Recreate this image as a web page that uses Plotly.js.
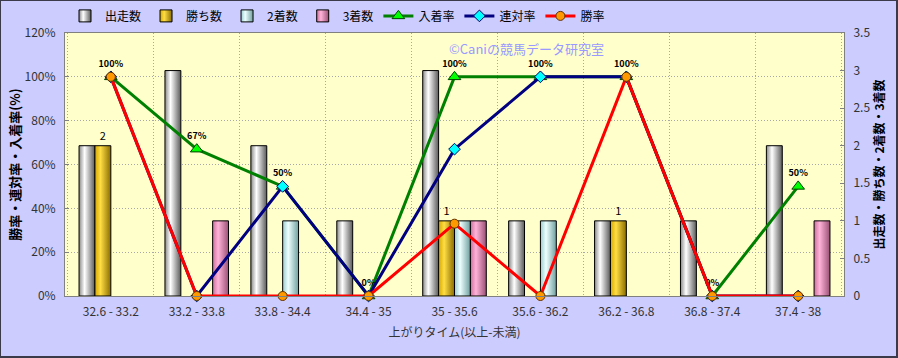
<!DOCTYPE html>
<html>
<head>
<meta charset="utf-8">
<script src="https://cdn.plot.ly/plotly-3.0.1.min.js"></script>
<style>
  html, body { margin: 0; padding: 0; background: #ccccff; }
  #wrap { width: 895px; height: 355px; border-style: solid; border-color: #3a3a4a;
          border-width: 1px 2px 2px 1px; background: #ccccff; }
  #chart { width: 895px; height: 355px; }
</style>
</head>
<body>
<div id="wrap"><div id="chart"></div></div>
<script>
// ---- data ----
const categories = ["32.6 - 33.2", "33.2 - 33.8", "33.8 - 34.4", "34.4 - 35", "35 - 35.6",
                    "35.6 - 36.2", "36.2 - 36.8", "36.8 - 37.4", "37.4 - 38"];
const starts  = [2, 3, 2, 1, 3, 1, 1, 1, 2];   // 出走数
const wins    = [2, 0, 0, 0, 1, 0, 1, 0, 0];   // 勝ち数
const seconds = [0, 0, 1, 0, 1, 1, 0, 0, 0];   // 2着数
const thirds  = [0, 1, 0, 0, 1, 0, 0, 0, 1];   // 3着数
const placeRate = [100, 67, 50, 0, 100, 100, 100, 0, 50]; // 入着率 (%)
const quinRate  = [100, 0, 50, 0, 67, 100, 100, 0, 0];    // 連対率 (%)
const winRate   = [100, 0, 0, 0, 33, 0, 100, 0, 0];       // 勝率 (%)

const FONT = '"Noto Sans CJK JP", "Noto Sans", sans-serif';

function barTrace(name, vals, color, extra) {
  return Object.assign({
    type: 'bar', name: name, x: categories,
    y: vals.map(v => v === 0 ? null : v),
    xaxis: 'x', yaxis: 'y',
    marker: { color: color, line: { color: '#000000', width: 1 } },
    hoverinfo: 'skip'
  }, extra || {});
}

const traces = [
  barTrace('出走数', starts, '#d8d8d8'),
  barTrace('勝ち数', wins, '#ffcc00', {
    text: wins.map(v => v ? String(v) : ''),
    textposition: 'outside', cliponaxis: false,
    textfont: { family: FONT, size: 11, color: '#000000' }
  }),
  barTrace('2着数', seconds, '#ccffff'),
  barTrace('3着数', thirds, '#ff99cc'),
  {
    type: 'scatter', mode: 'lines+markers+text', name: '入着率',
    x: categories, y: placeRate, xaxis: 'x', yaxis: 'y2',
    line: { color: '#008000', width: 3 },
    marker: { symbol: 'triangle-up', size: 11, color: '#00ff00', line: { color: '#004000', width: 1 } },
    text: placeRate.map(v => v + '%'), textposition: 'top center',
    textfont: { family: FONT, size: 9, color: '#000000', weight: 'bold' },
    cliponaxis: false, hoverinfo: 'skip'
  },
  {
    type: 'scatter', mode: 'lines+markers', name: '連対率',
    x: categories, y: quinRate, xaxis: 'x', yaxis: 'y2',
    line: { color: '#000080', width: 3 },
    marker: { symbol: 'diamond', size: 9, color: '#00ffff', line: { color: '#000060', width: 1 } },
    cliponaxis: false, hoverinfo: 'skip'
  },
  {
    type: 'scatter', mode: 'lines+markers', name: '勝率',
    x: categories, y: winRate, xaxis: 'x', yaxis: 'y2',
    line: { color: '#ff0000', width: 3 },
    marker: { symbol: 'circle', size: 9, color: '#ff9900', line: { color: '#603000', width: 1 } },
    cliponaxis: false, hoverinfo: 'skip'
  }
];

const layout = {
  width: 895, height: 355,
  margin: { l: 64, r: 52, t: 32, b: 60, autoexpand: false },
  paper_bgcolor: '#ccccff',
  plot_bgcolor: '#ffffcc',
  font: { family: FONT, size: 12, color: '#333333' },
  barmode: 'group', bargap: 0.26, bargroupgap: 0,
  showlegend: true,
  legend: {
    orientation: 'h', x: 0.0, xanchor: 'left', y: 1.065, yanchor: 'middle',
    bgcolor: 'rgba(0,0,0,0)', font: { family: FONT, size: 12, color: '#000000' },
    itemwidth: 30, traceorder: 'normal', tracegroupgap: 0
  },
  xaxis: {
    type: 'category', tickson: 'boundaries', showgrid: true, gridcolor: '#a8a8a8',
    griddash: '1px,2px', gridwidth: 1, ticks: '', showline: true, linecolor: '#808080',
    mirror: true, ticklabelstandoff: 5, tickfont: { family: FONT, size: 12, color: '#333333' },
    title: { text: '上がりタイム(以上-未満)', font: { family: FONT, size: 12, color: '#333333' }, standoff: 10 },
    fixedrange: true
  },
  yaxis: {
    side: 'right', range: [0, 3.5], dtick: 0.5, tick0: 0, showgrid: false, zeroline: false,
    showline: true, linecolor: '#808080', ticks: 'inside', ticklen: 4, tickcolor: '#808080',
    ticklabelstandoff: 6, tickfont: { family: FONT, size: 12, color: '#333333' },
    title: { text: '出走数・勝ち数・2着数・3着数', font: { family: FONT, size: 12, color: '#000000', weight: 'bold' }, standoff: 6 },
    fixedrange: true
  },
  yaxis2: {
    overlaying: 'y', side: 'left', range: [0, 120], dtick: 20, tick0: 0, ticksuffix: '%',
    showgrid: true, gridcolor: '#a8a8a8', griddash: '1px,2px', gridwidth: 1, zeroline: false,
    showline: true, linecolor: '#808080', ticks: 'inside', ticklen: 4, tickcolor: '#808080',
    ticklabelstandoff: 6, tickfont: { family: FONT, size: 12, color: '#333333' },
    title: { text: '勝率・連対率・入着率(%)', font: { family: FONT, size: 13, color: '#000000', weight: 'bold' }, standoff: 1 },
    fixedrange: true
  },
  annotations: [{
    xref: 'paper', yref: 'paper', x: 0.49, y: 0.942, xanchor: 'left', yanchor: 'middle',
    text: '©Caniの競馬データ研究室', showarrow: false,
    font: { family: FONT, size: 13, color: '#9999ff' }
  }]
};

// cylinder-like shading for bars (Excel style)
const grads = [
  ['g_start', '#8a8a8a', '#ffffff', '#5a5a5a'],
  ['g_win',   '#d4a800', '#ffdd44', '#8a6d00'],
  ['g_2nd',   '#99cccc', '#eeffff', '#6f9f9f'],
  ['g_3rd',   '#cc6f9c', '#ffb3d9', '#9a4f74']
];

function applyGradients(gd) {
  const svg = gd.querySelector('svg.main-svg');
  if (!svg) return;
  const NS = 'http://www.w3.org/2000/svg';
  let defs = svg.querySelector('defs');
  if (!defs) { defs = document.createElementNS(NS, 'defs'); svg.insertBefore(defs, svg.firstChild); }
  grads.forEach(g => {
    const lg = document.createElementNS(NS, 'linearGradient');
    lg.setAttribute('id', g[0]);
    lg.setAttribute('x1', '0'); lg.setAttribute('y1', '0');
    lg.setAttribute('x2', '1'); lg.setAttribute('y2', '0');
    [[0, g[1]], [0.35, g[2]], [1, g[3]]].forEach(s => {
      const st = document.createElementNS(NS, 'stop');
      st.setAttribute('offset', s[0]);
      st.setAttribute('stop-color', s[1]);
      lg.appendChild(st);
    });
    defs.appendChild(lg);
  });
  const barTraces = gd.querySelectorAll('.barlayer .trace.bars');
  barTraces.forEach((t, i) => {
    if (i < grads.length) {
      t.querySelectorAll('.point path').forEach(p => { p.style.fill = 'url(#' + grads[i][0] + ')'; });
    }
  });
  const legendTraces = gd.querySelectorAll('.legend .traces');
  legendTraces.forEach((t, i) => {
    if (i < grads.length) {
      t.querySelectorAll('.legendpoints path').forEach(p => { p.style.fill = 'url(#' + grads[i][0] + ')'; });
    }
  });
}

Plotly.newPlot('chart', traces, layout, { displayModeBar: false, staticPlot: true })
  .then(gd => applyGradients(gd));
</script>
</body>
</html>
